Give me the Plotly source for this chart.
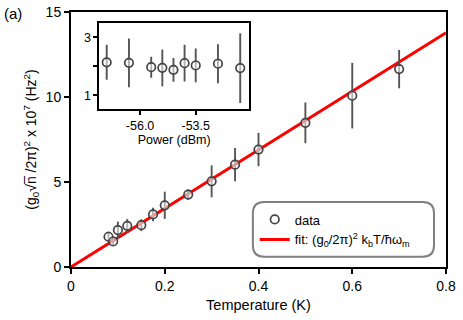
import plotly.graph_objects as go

# main panel: coupling vs temperature
temp_K = [0.08, 0.09, 0.10, 0.12, 0.15, 0.175, 0.20, 0.25, 0.30, 0.35, 0.40, 0.50, 0.60, 0.70]
g_sq = [1.78, 1.50, 2.17, 2.42, 2.46, 3.09, 3.63, 4.26, 5.04, 6.02, 6.91, 8.48, 10.08, 11.64]
g_err = [0.30, 0.20, 0.50, 0.40, 0.35, 0.40, 0.80, 0.30, 0.94, 0.98, 0.98, 1.20, 1.93, 1.13]

fit_T = [0.0, 0.8]
fit_y = [0.0, 13.78]

# inset: coupling vs power
power_dBm = [-57.5, -56.5, -55.5, -55.0, -54.5, -54.0, -53.5, -52.5, -51.5]
inset_y = [2.14, 2.12, 1.97, 1.95, 1.88, 2.11, 2.03, 2.09, 1.94]
inset_err = [0.60, 0.84, 0.36, 0.63, 0.41, 0.63, 0.58, 0.67, 1.20]

font = "Liberation Sans, Arial, sans-serif"
marker = dict(symbol="circle", size=8.5, color="rgba(255,255,255,0.55)",
              line=dict(color="#444444", width=1.7))
err_style = dict(type="data", visible=True, color="#555555", thickness=1.9, width=0)

fig = go.Figure()

fig.add_trace(go.Scatter(
    x=fit_T, y=fit_y, mode="lines",
    line=dict(color="#ff0000", width=3),
    name="fit: (g<sub>0</sub>/2π)<sup>2</sup> k<sub>b</sub>T/ħω<sub>m</sub>",
    legendrank=2,
))

fig.add_trace(go.Scatter(
    x=temp_K, y=g_sq, mode="markers", marker=marker,
    error_y=dict(array=g_err, **err_style),
    name="data", legendrank=1,
))

fig.add_trace(go.Scatter(
    x=power_dBm, y=inset_y, mode="markers", marker=marker,
    error_y=dict(array=inset_err, **err_style),
    xaxis="x2", yaxis="y2", showlegend=False,
))

axis_common = dict(ticks="outside", tickcolor="black", showline=True,
                   linecolor="black", mirror=True, showgrid=False,
                   zeroline=False, automargin=False)

fig.update_layout(
    width=463, height=320,
    margin=dict(l=71, r=17, t=12, b=53),
    paper_bgcolor="white", plot_bgcolor="white",
    font=dict(family=font, size=14, color="black"),
    showlegend=True,
    legend=dict(x=0.49, y=0.245, xanchor="left", yanchor="top",
                bgcolor="rgba(0,0,0,0)", borderwidth=0,
                font=dict(size=13), tracegroupgap=0),
    xaxis=dict(range=[0, 0.8], tickvals=[0, 0.2, 0.4, 0.6, 0.8],
               ticktext=["0", "0.2", "0.4", "0.6", "0.8"],
               ticklen=5, tickwidth=2, linewidth=2,
               title=dict(text="Temperature (K)", font=dict(size=14.5), standoff=7),
               **axis_common),
    yaxis=dict(range=[0, 15], tickvals=[0, 5, 10, 15],
               ticklen=5, tickwidth=2, linewidth=2,
               title=dict(text="(g<sub>0</sub>√n\u0305 /2π)<sup>2</sup> x 10<sup>7</sup> (Hz<sup>2</sup>)",
                          font=dict(size=14), standoff=6),
               **axis_common),
    xaxis2=dict(domain=[0.075, 0.475], anchor="y2", range=[-57.84, -51.1],
                tickvals=[-56.0, -53.5], ticktext=["-56.0", "-53.5"],
                ticklen=4, tickwidth=1.5, linewidth=1.5, tickfont=dict(size=12.5),
                title=dict(text="Power (dBm)", font=dict(size=12.5), standoff=2),
                **axis_common),
    yaxis2=dict(domain=[0.618, 0.958], anchor="x2", range=[0.52, 3.5],
                tickvals=[1, 2, 3], ticktext=["1", "", "3"],
                ticklen=4, tickwidth=1.5, linewidth=1.5, tickfont=dict(size=12.5),
                **axis_common),
    annotations=[dict(text="(a)", x=-0.183, y=1.035, xref="paper", yref="paper",
                      xanchor="left", yanchor="top", showarrow=False,
                      font=dict(size=15))],
)

# rounded legend frame
x0, x1 = 0.485, 0.968
y0, y1 = 0.04, 0.255
r = 0.03
ry = r * 375 / 255.5
path = (f"M{x0 + r},{y0} L{x1 - r},{y0} Q{x1},{y0} {x1},{y0 + ry} "
        f"L{x1},{y1 - ry} Q{x1},{y1} {x1 - r},{y1} L{x0 + r},{y1} "
        f"Q{x0},{y1} {x0},{y1 - ry} L{x0},{y0 + ry} Q{x0},{y0} {x0 + r},{y0} Z")
fig.add_shape(type="path", path=path, xref="paper", yref="paper",
              line=dict(color="#808080", width=2), fillcolor="rgba(0,0,0,0)")

# drop the default page margin so the figure sits at the window corner
fig.write_html("out.html", config={"displayModeBar": False},
               post_script="document.body.style.margin='0';")
